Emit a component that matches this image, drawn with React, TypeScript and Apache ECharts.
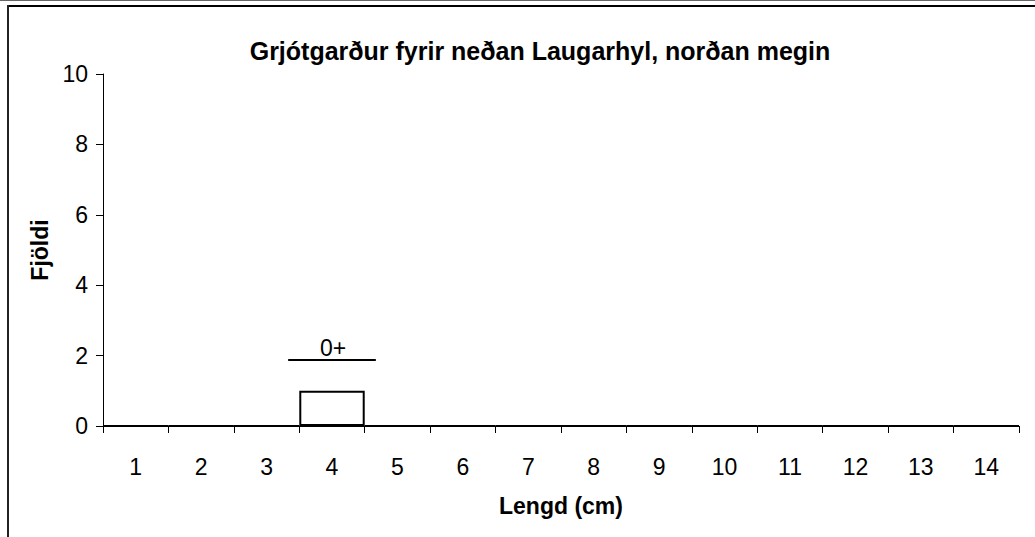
import React, { useEffect, useRef } from "react";
import * as echarts from "echarts";

const categories = ["1", "2", "3", "4", "5", "6", "7", "8", "9", "10", "11", "12", "13", "14"];
const counts = [0, 0, 0, 1, 0, 0, 0, 0, 0, 0, 0, 0, 0, 0];
const annotationCategory = ["4"];
const annotationValue = [1.875];
const annotationLabel = ["0+"];
const yTicks = { min: 0, max: 10, interval: 2 };

const FONT = "'Liberation Sans', Arial, sans-serif";

export default function App() {
  const ref = useRef<HTMLDivElement>(null);
  useEffect(() => {
    if (!ref.current) return;
    const chart = echarts.init(ref.current, undefined, { renderer: "svg" });
    chart.setOption({
      animation: false,
      backgroundColor: "#fff",
      title: {
        text: "Grjótgarður fyrir neðan Laugarhyl, norðan megin",
        left: 535,
        textAlign: "center",
        top: 33,
        textStyle: { fontFamily: FONT, fontSize: 25, fontWeight: "bold", color: "#000" },
      },
      grid: { left: 103, right: 16, top: 74, bottom: 111, containLabel: false },
      xAxis: {
        type: "category",
        data: categories,
        name: "Lengd (cm)",
        nameLocation: "middle",
        nameGap: 68,
        nameTextStyle: { fontFamily: FONT, fontSize: 23, fontWeight: "bold", color: "#000" },
        axisLine: { lineStyle: { color: "#000", width: 1 } },
        axisTick: { show: true, length: 7, inside: false, alignWithLabel: false, lineStyle: { color: "#000" } },
        axisLabel: { fontFamily: FONT, fontSize: 23, color: "#000", margin: 29 },
        splitLine: { show: false },
      },
      yAxis: {
        type: "value",
        min: yTicks.min,
        max: yTicks.max,
        interval: yTicks.interval,
        name: "Fjöldi",
        nameLocation: "middle",
        nameGap: 50,
        nameRotate: 90,
        nameTextStyle: { fontFamily: FONT, fontSize: 23, fontWeight: "bold", color: "#000" },
        axisLine: { show: true, lineStyle: { color: "#000", width: 1 } },
        axisTick: { show: true, length: 7, lineStyle: { color: "#000" } },
        axisLabel: { fontFamily: FONT, fontSize: 23, color: "#000", margin: 15 },
        splitLine: { show: false },
      },
      series: [
        {
          type: "bar",
          data: counts,
          barCategoryGap: "0%",
          itemStyle: { color: "#fff", borderColor: "#000", borderWidth: 2 },
        },
        {
          type: "custom",
          data: annotationCategory.map((c, i) => [c, annotationValue[i], annotationLabel[i]]),
          renderItem: (params: any, api: any) => {
            const p = api.coord([api.value(0), api.value(1)]);
            const band = api.size([1, 0])[0];
            const half = band * 0.67;
            return {
              type: "group",
              children: [
                {
                  type: "line",
                  shape: { x1: p[0] - half, y1: p[1], x2: p[0] + half, y2: p[1] },
                  style: { stroke: "#000", lineWidth: 2 },
                },
                {
                  type: "text",
                  x: p[0] + 1,
                  y: p[1] - 1,
                  style: {
                    text: String(annotationLabel[params.dataIndex]),
                    fontFamily: FONT,
                    fontSize: 23,
                    fill: "#000",
                    align: "center",
                    verticalAlign: "bottom",
                  },
                },
              ],
            };
          },
        },
      ],
      graphic: [
        { type: "rect", shape: { x: 0, y: 0, width: 1035, height: 1 }, style: { fill: "#666" } },
        { type: "rect", shape: { x: 7, y: 5, width: 1028, height: 2 }, style: { fill: "#000" } },
        { type: "rect", shape: { x: 7, y: 5, width: 2, height: 532 }, style: { fill: "#222" } },
      ],
    });
    return () => chart.dispose();
  }, []);
  return <div ref={ref} style={{ position: "fixed", left: 0, top: 0, width: 1035, height: 537 }} />;
}
